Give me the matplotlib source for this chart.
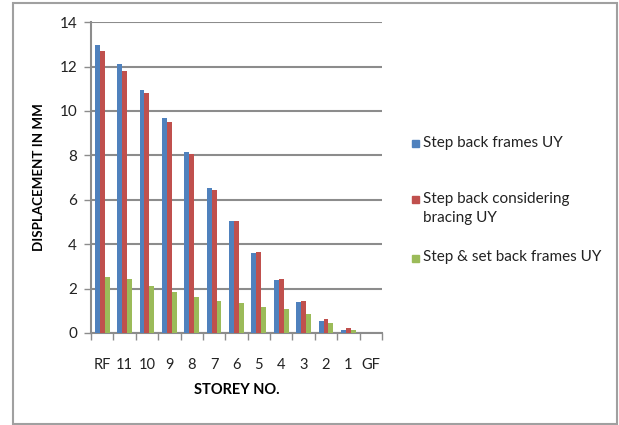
import matplotlib.pyplot as plt
import matplotlib.patches as mpatches
import numpy as np

plt.rcParams['font.family'] = ['Lato', 'DejaVu Sans']

storeys = ['RF', '11', '10', '9', '8', '7', '6', '5', '4', '3', '2', '1', 'GF']
step_back = [12.95, 12.11, 10.96, 9.66, 8.14, 6.54, 5.05, 3.58, 2.37, 1.38, 0.53, 0.15, 0.0]
step_back_bracing = [12.71, 11.79, 10.81, 9.51, 8.06, 6.46, 5.05, 3.66, 2.45, 1.45, 0.61, 0.23, 0.0]
step_set_back = [2.51, 2.45, 2.13, 1.83, 1.60, 1.45, 1.36, 1.15, 1.07, 0.85, 0.47, 0.15, 0.0]

series = [
    ('Step back frames UY', step_back, '#4F81BD'),
    ('Step back considering\nbracing UY', step_back_bracing, '#C0504D'),
    ('Step & set back frames UY', step_set_back, '#9BBB59'),
]

W, H = 619, 425
fig = plt.figure(figsize=(W / 100, H / 100), dpi=100)
ax = fig.add_axes([0.147, 0.2165, 0.47, 0.7315])

x = np.arange(len(storeys))
w = 0.22
for i, (name, vals, col) in enumerate(series):
    ax.bar(x + (i - 1) * w, vals, width=w, color=col, label=name, zorder=3)

ax.set_xlim(-0.5, len(storeys) - 0.5)
ax.set_ylim(0, 14)
ax.set_yticks(np.arange(0, 15, 2))
ax.yaxis.grid(True, color='#8c8c8c', linewidth=1.5, zorder=0)

# category boundaries carry the tick marks, labels sit in the middle
ax.set_xticks(np.arange(-0.5, len(storeys)), minor=False)
ax.set_xticklabels([])
ax.set_xticks(x, minor=True)
ax.set_xticklabels(storeys, minor=True, fontsize=10.5, color='#222222')
ax.tick_params(axis='x', which='minor', length=0, pad=18)
ax.tick_params(axis='x', which='major', length=5, color='#8c8c8c', width=1)
ax.tick_params(axis='y', length=5, color='#8c8c8c', width=1, labelsize=11,
               labelcolor='#222222', pad=5)

for s in ['top', 'right']:
    ax.spines[s].set_visible(False)
for s in ['left', 'bottom']:
    ax.spines[s].set_color('#8c8c8c')
    ax.spines[s].set_linewidth(1.5)

ax.set_ylabel('DISPLACEMENT IN MM', fontsize=9.6, fontweight='bold', labelpad=10)
ax.set_xlabel('STOREY NO.', fontsize=10.5, fontweight='bold', labelpad=8)

# legend drawn by hand so the swatch lines up with the first text line
legend_rows = [143, 200, 258]
for (name, _, col), yp in zip(series, legend_rows):
    fig.patches.append(mpatches.Rectangle(((412) / W, 1 - (yp + 3.5) / H), 7 / W, 7 / H,
                                          transform=fig.transFigure, color=col))
    fig.text(423 / W, 1 - (yp - 7.5) / H, name, fontsize=11, color='#222222',
             va='top', ha='left', linespacing=1.45)

fig.patches.append(mpatches.Rectangle((0.021, 0.002), 0.975, 0.99, transform=fig.transFigure,
                                      fill=False, edgecolor='#a0a0a0', linewidth=1.5))

fig.savefig('out.png', dpi=100)
